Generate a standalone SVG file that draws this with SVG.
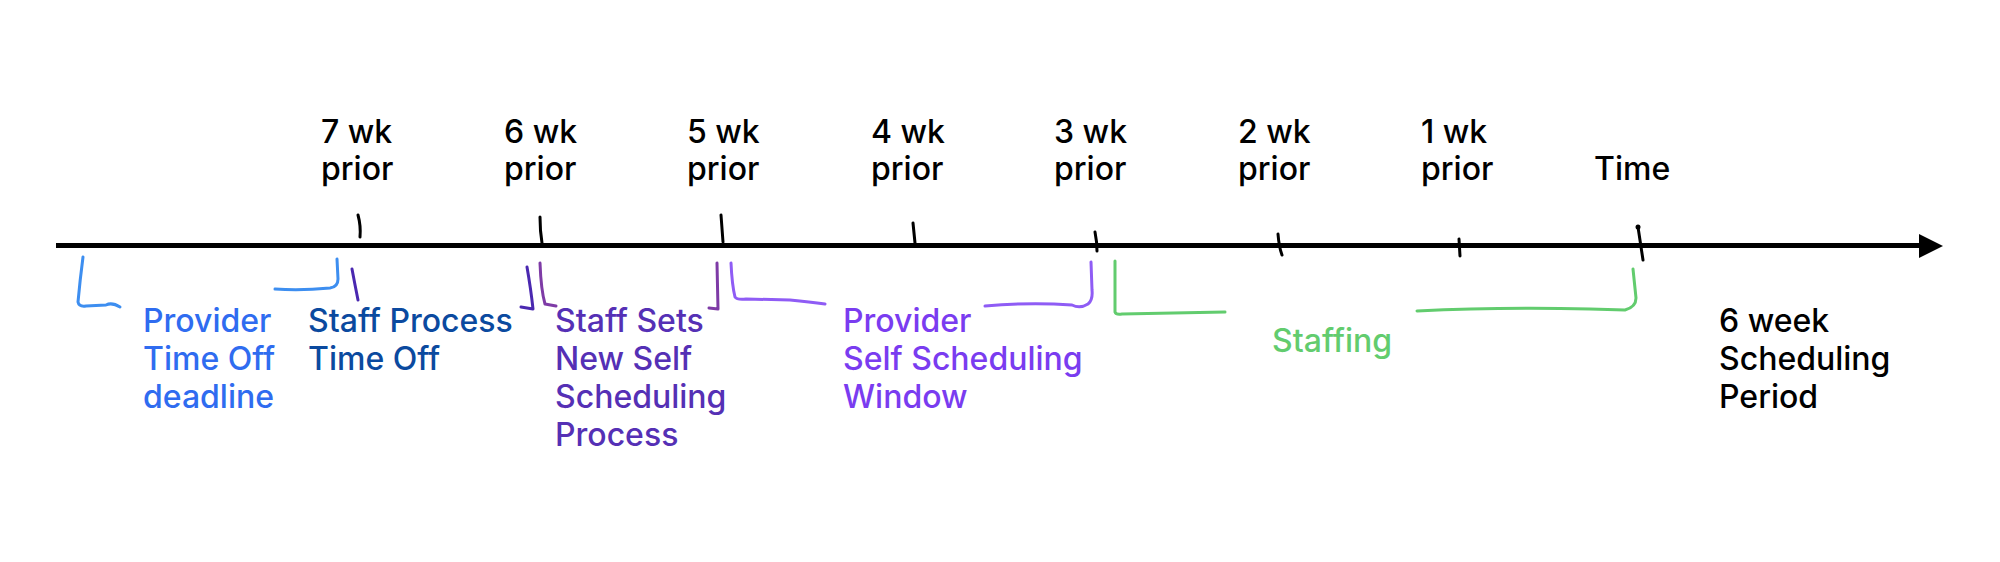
<svg xmlns="http://www.w3.org/2000/svg" width="2000" height="562" viewBox="0 0 2000 562">
<style>
text{font-family:Inter,"Liberation Sans",Arial,sans-serif;font-size:32px;font-weight:500}
.k{fill:#000}
.tick{fill:none;stroke:#000;stroke-width:3;stroke-linecap:round}
.br{fill:none;stroke-width:3;stroke-linecap:round;stroke-linejoin:round}
</style>
<rect width="2000" height="562" fill="#fff"/>
<g id="connectors">
<line id="axis" x1="56" y1="245.5" x2="1922" y2="245.5" stroke="#000" stroke-width="5"/>
<polygon points="1919,234 1943,246 1919,258" fill="#000"/>
<g id="ticks">
<path class="tick" d="M358,215 Q361,226 360,237"/>
<path class="tick" d="M540,217 Q540,231 542,243"/>
<path class="tick" d="M721,215 L723,242"/>
<path class="tick" d="M913,223 L915,243"/>
<path class="tick" d="M1095,232 Q1097,242 1097,251"/>
<path class="tick" d="M1278,234 Q1279,247 1282,255"/>
<path class="tick" d="M1459,239 L1460,256"/>
<path class="tick" d="M1638,227 L1643,260"/>
<circle cx="1638" cy="227" r="2.5" fill="#000"/>
</g>
<g id="brackets">
<path class="br" stroke="#3D8EF0" d="M83,257 Q80,280 78,302 Q79,307 86,306 L106,305 Q112,302 120,307"/>
<path class="br" stroke="#3D8EF0" d="M275,289 Q300,291 330,288 Q338,287 338,279 L337,259"/>
<path class="br" stroke="#4A28B0" d="M352,269 Q355,285 358,300"/>
<path class="br" stroke="#4A28B0" d="M527,267 Q531,290 533,309 L521,307"/>
<path class="br" stroke="#7E3BA6" d="M540,263 Q541,290 545,304 L556,306"/>
<path class="br" stroke="#7E3BA6" d="M717,263 L718,309 L709,308"/>
<path class="br" stroke="#8F5CF5" d="M731,263 Q732,285 735,297 Q737,300 746,299 L790,300 Q810,302 825,304"/>
<path class="br" stroke="#8F5CF5" d="M985,306 Q1030,302 1072,305 Q1080,309 1088,304 Q1093,300 1092,290 L1091,262"/>
<path class="br" stroke="#62CC6E" d="M1115,261 L1115,312 Q1116,315 1122,314 L1225,312"/>
<path class="br" stroke="#62CC6E" d="M1417,311 Q1500,307 1590,309 L1625,310 Q1636,307 1636,298 L1633,269"/>
</g>
</g>
<g id="label-7wk"><text class="k" x="321" y="143">7 wk</text><text class="k" x="321" y="180">prior</text></g>
<g id="label-6wk"><text class="k" x="504" y="143">6 wk</text><text class="k" x="504" y="180">prior</text></g>
<g id="label-5wk"><text class="k" x="687" y="143">5 wk</text><text class="k" x="687" y="180">prior</text></g>
<g id="label-4wk"><text class="k" x="871" y="143">4 wk</text><text class="k" x="871" y="180">prior</text></g>
<g id="label-3wk"><text class="k" x="1054" y="143">3 wk</text><text class="k" x="1054" y="180">prior</text></g>
<g id="label-2wk"><text class="k" x="1238" y="143">2 wk</text><text class="k" x="1238" y="180">prior</text></g>
<g id="label-1wk"><text class="k" x="1421" y="143">1 wk</text><text class="k" x="1421" y="180">prior</text></g>
<g id="label-time"><text class="k" x="1594" y="180">Time</text></g>
<g id="provider-timeoff" fill="#2F6CF0"><text x="143" y="332">Provider</text><text x="143" y="370">Time Off</text><text x="143" y="408">deadline</text></g>
<g id="staff-timeoff" fill="#0B4A9F"><text x="308" y="332">Staff Process</text><text x="308" y="370">Time Off</text></g>
<g id="staff-sets" fill="#5530B5"><text x="555" y="332">Staff Sets</text><text x="555" y="370">New Self</text><text x="555" y="408">Scheduling</text><text x="555" y="446">Process</text></g>
<g id="provider-window" fill="#7A3CF0"><text x="843" y="332">Provider</text><text x="843" y="370">Self Scheduling</text><text x="843" y="408">Window</text></g>
<g id="staffing" fill="#62CC6E"><text x="1272" y="352">Staffing</text></g>
<g id="period"><text class="k" x="1719" y="332">6 week</text><text class="k" x="1719" y="370">Scheduling</text><text class="k" x="1719" y="408">Period</text></g>
</svg>
